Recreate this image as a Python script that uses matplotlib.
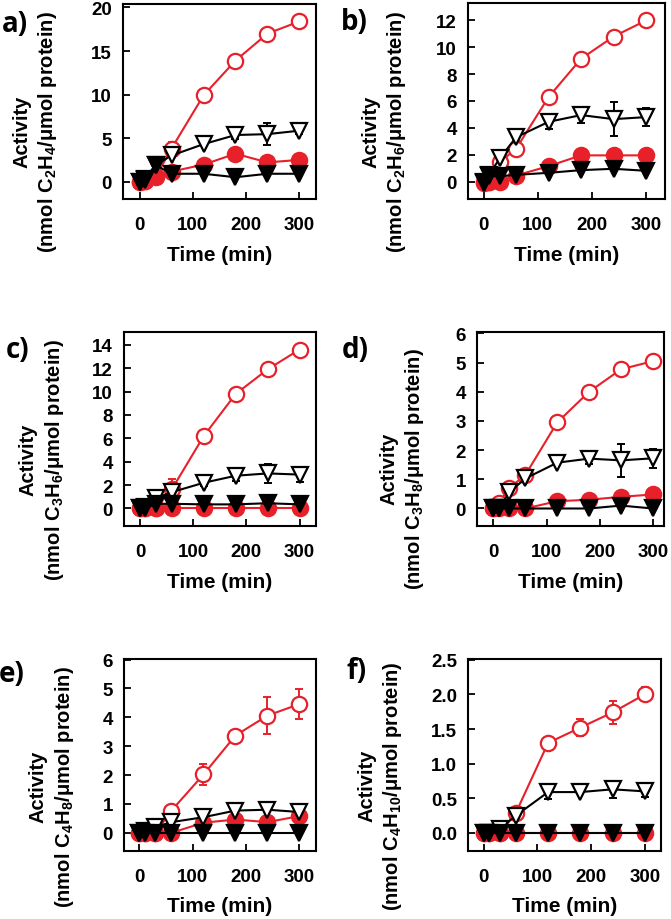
import matplotlib
matplotlib.use("Agg")
import matplotlib.pyplot as plt
import numpy as np

plt.rcParams['font.family'] = ['Liberation Sans', 'DejaVu Sans']
plt.rcParams['font.weight'] = 'bold'
plt.rcParams['mathtext.fontset'] = 'custom'
plt.rcParams['mathtext.rm'] = 'Liberation Sans:bold'
plt.rcParams['mathtext.bf'] = 'Liberation Sans:bold'
plt.rcParams['mathtext.it'] = 'Liberation Sans:bold'
plt.rcParams['mathtext.default'] = 'bf'

RED = '#e8202a'

time = [0, 10, 30, 60, 120, 180, 240, 300]

# panel a) C2H4
a_red_open = [0, 0.1, 0.5, 3.8, 9.9, 13.9, 17.0, 18.4]
a_red_open_err = [0, 0, 0, 0.7, 0, 0, 0, 0]
a_red_fill = [0, 0.1, 0.6, 1.15, 1.95, 3.2, 2.2, 2.5]
a_open_tri = [0, 0.3, 1.9, 3.0, 4.3, 5.35, 5.45, 5.85]
a_open_tri_err = [0, 0, 0, 0, 0, 0.45, 1.3, 0.4]
a_fill_tri = [-0.1, 0.2, 1.9, 0.9, 0.9, 0.5, 0.9, 0.9]

# panel b) C2H6
b_red_open = [-0.1, 0, 1.45, 2.45, 6.3, 9.15, 10.8, 12.0]
b_red_open_err = [0, 0, 0, 0.55, 0, 0, 0, 0]
b_red_fill = [0, 0, 0, 0.45, 1.15, 1.95, 1.95, 1.95]
b_open_tri = [0, 0.5, 1.75, 3.3, 4.45, 4.95, 4.65, 4.8]
b_open_tri_err = [0, 0, 0, 0, 0.55, 0.6, 1.25, 0.65]
b_fill_tri = [-0.1, 0.4, 0.4, 0.5, 0.65, 0.85, 0.95, 0.8]

# panel c) C3H6
c_red_open = [0, 0, 0, 1.65, 6.2, 9.8, 11.9, 13.6]
c_red_open_err = [0, 0, 0, 0.85, 0, 0, 0, 0]
c_red_fill = [0, 0, 0, 0, 0, 0, 0, 0]
c_open_tri = [0, 0.1, 0.9, 1.4, 2.2, 2.8, 3.0, 2.9]
c_open_tri_err = [0, 0, 0, 0, 0.3, 0.45, 0.8, 0.65]
c_fill_tri = [0, 0, 0.4, 0.4, 0.35, 0.35, 0.45, 0.35]

# panel d) C3H8
d_red_open = [0, 0.2, 0.7, 1.15, 2.95, 4.0, 4.77, 5.05]
d_red_open_err = [0, 0, 0, 0.2, 0, 0, 0, 0]
d_red_fill = [0, 0, 0, 0, 0.25, 0.3, 0.4, 0.48]
d_open_tri = [0, 0, 0.56, 1.03, 1.57, 1.71, 1.65, 1.72]
d_open_tri_err = [0, 0, 0, 0, 0, 0.2, 0.57, 0.33]
d_fill_tri = [0, 0, 0, 0, 0, 0, 0.1, 0]

# panel e) C4H8
e_red_open = [0, 0, 0, 0.77, 2.02, 3.37, 4.06, 4.46]
e_red_open_err = [0, 0, 0, 0, 0.38, 0.2, 0.65, 0.53]
e_red_fill = [0, 0, 0, 0, 0.35, 0.46, 0.37, 0.58]
e_open_tri = [0, 0.05, 0.2, 0.37, 0.54, 0.77, 0.8, 0.72]
e_open_tri_err = [0, 0, 0, 0, 0, 0, 0, 0]
e_fill_tri = [0, 0, 0, 0, 0, 0, 0, 0]

# panel f) C4H10
f_red_open = [0, 0, 0, 0.29, 1.3, 1.52, 1.74, 2.0]
f_red_open_err = [0, 0, 0, 0, 0, 0.12, 0.17, 0.1]
f_red_fill = [0, 0, 0, 0, 0, 0, 0, 0]
f_open_tri = [0, 0, 0.06, 0.25, 0.59, 0.59, 0.63, 0.6]
f_open_tri_err = [0, 0, 0, 0, 0.1, 0, 0.12, 0.08]
f_fill_tri = [0, 0, 0, 0, 0, 0, 0, 0]

panels = [
    dict(tag='a)', gas='C$_2$H$_4$', ro=a_red_open, roe=a_red_open_err, rf=a_red_fill,
         ot=a_open_tri, ote=a_open_tri_err, ft=a_fill_tri,
         yticks=[0, 5, 10, 15, 20], ylim=(-2, 20.4), xlim=(-31, 331),
         pos=[123, 5, 193, 195], lab=(35, 132), tagxy=(15, 25)),
    dict(tag='b)', gas='C$_2$H$_6$', ro=b_red_open, roe=b_red_open_err, rf=b_red_fill,
         ot=b_open_tri, ote=b_open_tri_err, ft=b_fill_tri,
         yticks=[0, 2, 4, 6, 8, 10, 12], ylim=(-1.3, 13.3), xlim=(-29, 335),
         pos=[468, 4, 197, 196], lab=(384, 132), tagxy=(354, 23)),
    dict(tag='c)', gas='C$_3$H$_6$', ro=c_red_open, roe=c_red_open_err, rf=c_red_fill,
         ot=c_open_tri, ote=c_open_tri_err, ft=c_fill_tri,
         yticks=[0, 2, 4, 6, 8, 10, 12, 14], ylim=(-1.5, 15.1), xlim=(-30, 331),
         pos=[124, 333, 192, 194], lab=(41, 460), tagxy=(18, 351)),
    dict(tag='d)', gas='C$_3$H$_8$', ro=d_red_open, roe=d_red_open_err, rf=d_red_fill,
         ot=d_open_tri, ote=d_open_tri_err, ft=d_fill_tri,
         yticks=[0, 1, 2, 3, 4, 5, 6], ylim=(-0.6, 6.05), xlim=(-31, 321),
         pos=[477, 333, 187, 194], lab=(402, 469), tagxy=(355, 351)),
    dict(tag='e)', gas='C$_4$H$_8$', ro=e_red_open, roe=e_red_open_err, rf=e_red_fill,
         ot=e_open_tri, ote=e_open_tri_err, ft=e_fill_tri,
         yticks=[0, 1, 2, 3, 4, 5, 6], ylim=(-0.63, 6.02), xlim=(-29, 331),
         pos=[124, 660, 192, 192], lab=(51, 787), tagxy=(12, 675)),
    dict(tag='f)', gas='C$_4$H$_{10}$', ro=f_red_open, roe=f_red_open_err, rf=f_red_fill,
         ot=f_open_tri, ote=f_open_tri_err, ft=f_fill_tri,
         yticks=[0.0, 0.5, 1.0, 1.5, 2.0, 2.5], ylim=(-0.26, 2.51), xlim=(-29, 330),
         pos=[468, 660, 193, 192], lab=(380, 786), tagxy=(357, 672)),
]

W, H = 671, 920
fig = plt.figure(figsize=(W / 100, H / 100), dpi=100)

t = np.array(time)
for p in panels:
    x0, y0, w, h = p['pos']
    ax = fig.add_axes([x0 / W, (H - y0 - h) / H, w / W, h / H])

    def errs(y, e, color):
        y = np.array(y); e = np.array(e)
        m = e > 0
        if m.any():
            ax.errorbar(t[m], y[m], yerr=e[m], fmt='none', ecolor=color,
                        elinewidth=1.4, capsize=3, capthick=1.4, zorder=2)

    errs(p['ro'], p['roe'], RED)
    ax.plot(t, p['ro'], '-o', color=RED, mfc='white', mec=RED, ms=11, mew=1.6, lw=1.5, zorder=3)
    ax.plot(t, p['rf'], '-o', color=RED, mfc=RED, mec=RED, ms=11, mew=1.6, lw=1.5, zorder=4)
    errs(p['ot'], p['ote'], 'black')
    ax.plot(t, p['ot'], '-v', color='black', mfc='white', mec='black', ms=11, mew=1.6, lw=1.5, zorder=5)
    ax.plot(t, p['ft'], '-v', color='black', mfc='black', mec='black', ms=11, mew=1.6, lw=1.5, zorder=6)

    ax.set_xlim(p['xlim'])
    ax.set_ylim(p['ylim'])
    ax.set_xticks([0, 100, 200, 300])
    ax.set_yticks(p['yticks'])
    if p['tag'] == 'f)':
        ax.set_yticklabels(['%.1f' % v for v in p['yticks']])
    ax.tick_params(direction='in', length=5, width=1.3, labelsize=13.5)
    ax.tick_params(axis='x', pad=12)
    ax.tick_params(axis='y', pad=8)
    for s in ax.spines.values():
        s.set_linewidth(1.5)

    ax.set_xlabel('Time (min)', fontsize=15, fontweight='bold', va='center')
    ax.xaxis.set_label_coords(0.5, -0.285)

    # two-line y label: "Activity" and the unit line, drawn as separate texts
    lx, ly = p['lab']
    ly_ax = (y0 + h - ly) / h
    ax.text((lx - 13 - x0) / w, ly_ax, 'Activity', transform=ax.transAxes,
            rotation=90, fontsize=14.5, fontweight='bold', ha='center', va='center')
    ax.set_ylabel('(nmol ' + p['gas'] + '/μmol protein)', fontsize=14.5,
                  fontweight='bold', va='center', ha='center')
    ax.yaxis.set_label_coords((lx + 13 - x0) / w, ly_ax)

    fig.text(p['tagxy'][0] / W, 1 - p['tagxy'][1] / H, p['tag'], fontsize=20,
             fontweight='bold', family=['Open Sans', 'DejaVu Sans'], ha='center', va='center')

fig.savefig('out.png', dpi=100)
